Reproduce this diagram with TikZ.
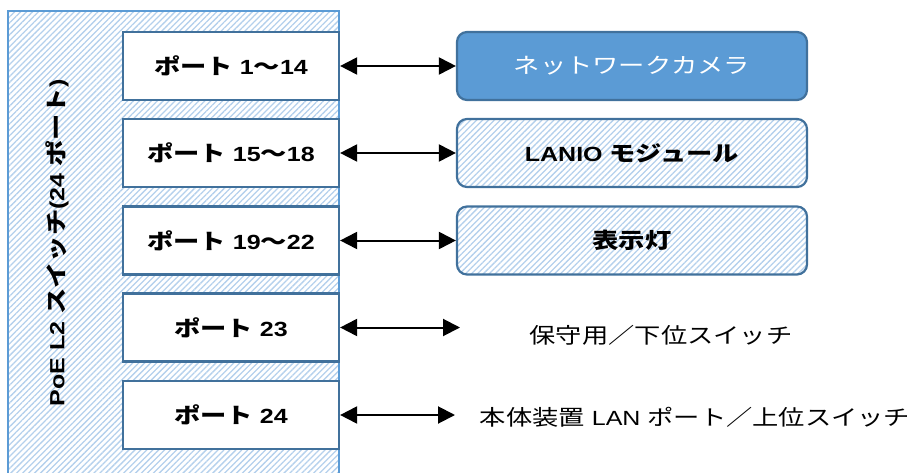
\documentclass[tikz,border=0pt]{standalone}
\usepackage{fontspec}
\setmainfont{Liberation Sans}[FakeStretch = 1.22]
\newfontfamily\jpfont{Noto Sans CJK JP}[Scale = 1.05, FakeStretch = 1.22]
\newcommand\jp[1]{{\jpfont #1}}
\usetikzlibrary{positioning, arrows.meta, patterns.meta}
\definecolor{boxline}{HTML}{41719C}
\definecolor{camfill}{HTML}{5B9BD5}
\definecolor{hatch}{HTML}{B4D0EC}

\begin{document}
\begin{tikzpicture}[x = 1pt, y = 1pt, font = \fontsize{20.5}{24}\selectfont,
        boldtext/.style = {font = \fontsize{20.5}{24}\selectfont\bfseries},
        hatched/.style = {pattern = {Lines[angle = 45, distance = 4.2pt, line width = 1.3pt]}, pattern color = hatch},
        portbox/.style = {draw = boxline, line width = 2.2pt, fill = white, boldtext,
                minimum width = 216pt, minimum height = 68pt},
        devbox/.style = {draw = boxline, line width = 2.2pt, rounded corners = 10pt,
                minimum width = 350pt, minimum height = 68pt},
        link/.style = {{Triangle[length = 17pt, width = 17pt]}-{Triangle[length = 17pt, width = 17pt]}, line width = 2pt}]

        \useasboundingbox (0, 0) rectangle (915, 472);

        % switch body
        \fill [hatched] (8, 0) rectangle (339, 461);
        \draw [camfill, line width = 2pt] (8, -2) -- (8, 461) -- (339, 461) -- (339, -2);
        \node (switch) [boldtext, rotate = 90] at (57, 229) {PoE L2 \jp{スイッチ}(24 \jp{ポート})};

        % ports
        \node (p1) [portbox] at (231, 406) {\jp{ポート} 1\jp{〜}14};
        \node (p2) [portbox] at (231, 319) {\jp{ポート} 15\jp{〜}18};
        \node (p3) [portbox] at (231, 231.5) {\jp{ポート} 19\jp{〜}22};
        \node (p4) [portbox] at (231, 144.5) {\jp{ポート} 23};
        \node (p5) [portbox] at (231, 57) {\jp{ポート} 24};

        % devices
        \node (cam) [devbox, fill = camfill, text = white] at (632, 406) {\jp{ネットワークカメラ}};
        \node (lanio) [devbox, hatched, boldtext] at (632, 319) {LANIO \jp{モジュール}};
        \node (lamp) [devbox, hatched, boldtext] at (632, 231.5) {\jp{表示灯}};

        \coordinate (e4) at (460, 144.5);
        \coordinate (e5) at (455, 57);
        \node (down) at (661, 137) {\jp{保守用／下位スイッチ}};
        \node (up) at (695, 55) {\jp{本体装置} LAN \jp{ポート／上位スイッチ}};

        \draw [link] (p1) -- (cam);
        \draw [link] (p2) -- (lanio);
        \draw [link] (p3) -- (lamp);
        \draw [link] (p4) -- (e4);
        \draw [link] (p5) -- (e5);
    \end{tikzpicture}
\end{document}
